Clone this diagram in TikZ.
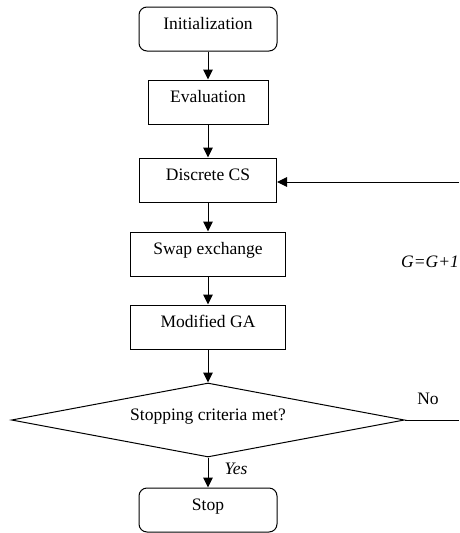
\documentclass[tikz,border=0pt]{standalone}
\usepackage{fontspec}
\setmainfont{Liberation Serif}
\usetikzlibrary{shapes.geometric,arrows.meta}

\begin{document}
\begin{tikzpicture}[x=1pt, y=-1pt, line width=1pt,
    font=\fontsize{17.5}{21}\selectfont,
    box/.style={draw, rectangle, inner sep=0pt, minimum height=44pt,
                text height=7pt, text depth=7pt},
    endbox/.style={box, rounded corners=8pt, minimum width=138pt},
    arrow/.style={-{Triangle[length=10pt,width=9.5pt]}}]

    \useasboundingbox (0,0) rectangle (459,533);

    % Start and end of the flow (rounded boxes)
    \node [endbox] (init) at (208,29) {Initialization};
    \node [endbox] (stop) at (208,510) {Stop};

    % Process steps in one column
    \foreach \name/\y/\w/\txt in {eval/102/120/Evaluation, dcs/180/137/Discrete CS,
                                  swap/254/155/Swap exchange, mga/327/155/Modified GA} {
        \node [box, minimum width=\w pt] (\name) at (208,\y) {\txt};
    }

    % Decision
    \node [draw, diamond, aspect=5.3, inner sep=0pt, minimum width=393pt,
           minimum height=74pt, text height=7pt, text depth=7pt]
           (crit) at (208,420) {Stopping criteria met?};

    % Arrows down the column
    \foreach \a/\b in {init/eval, eval/dcs, dcs/swap, swap/mga, mga/crit, crit/stop} {
        \draw [arrow] (\a) -- (\b);
    }
    \node [font=\fontsize{17.5}{21}\selectfont\itshape] (yes) at (236,469) {Yes};

    % Loop back on the right edge
    \coordinate (noend) at (459,420);
    \coordinate (backin) at (459,182);
    \draw (crit.east) -- (noend);
    \draw [arrow] (backin) -- (dcs.east |- backin);
    \node (no) at (428,399) {No};
    \node [font=\fontsize{17.5}{21}\selectfont\itshape] (gen) at (430,262) {G=G+1};
\end{tikzpicture}
\end{document}
